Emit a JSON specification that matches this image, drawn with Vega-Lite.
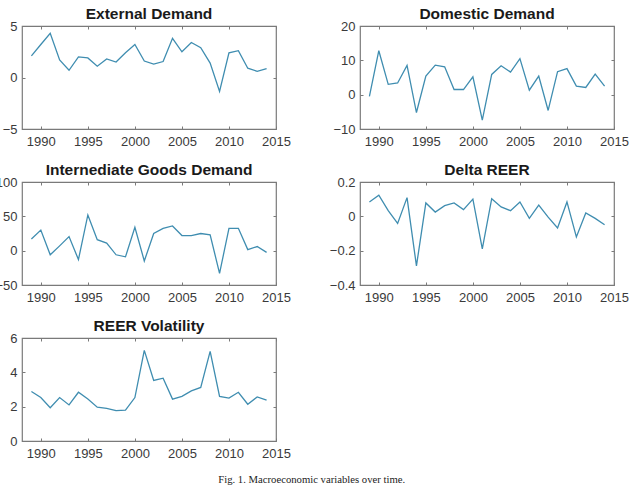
{
  "$schema": "https://vega.github.io/schema/vega-lite/v6.json",
  "padding": {"left": -6, "top": 5, "right": 0, "bottom": 0},
  "background": "white",
  "title": {"text": "Fig. 1.  Macroeconomic variables over time.", "orient": "bottom", "anchor": "middle", "font": "Liberation Serif", "fontSize": 10.7, "fontWeight": "normal", "color": "#222222", "offset": 14},
  "config": {
    "view": {"stroke": "#7a7a7a", "strokeWidth": 1.2},
    "font": "Liberation Sans",
    "title": {"font": "Liberation Sans", "fontSize": 15.5, "fontWeight": "bold", "color": "#1a1a1a", "offset": -2},
    "axis": {"domain": false, "grid": false, "tickSize": -3, "tickColor": "#7a7a7a", "labelFont": "Liberation Sans", "labelFontSize": 13, "labelColor": "#3a3a3a", "title": null, "labelPadding": 9, "labelFlush": false},
    "axisY": {"labelPadding": 8},
    "line": {"color": "#3f8db0", "strokeWidth": 1.3}
  },
  "datasets": {
    "ext": [
      {"year": 1989, "value": 2.1}, {"year": 1990, "value": 3.2}, {"year": 1991, "value": 4.3}, {"year": 1992, "value": 1.7},
      {"year": 1993, "value": 0.7}, {"year": 1994, "value": 2.0}, {"year": 1995, "value": 1.9}, {"year": 1996, "value": 1.1},
      {"year": 1997, "value": 1.8}, {"year": 1998, "value": 1.5}, {"year": 1999, "value": 2.4}, {"year": 2000, "value": 3.2},
      {"year": 2001, "value": 1.6}, {"year": 2002, "value": 1.3}, {"year": 2003, "value": 1.55}, {"year": 2004, "value": 3.8},
      {"year": 2005, "value": 2.5}, {"year": 2006, "value": 3.4}, {"year": 2007, "value": 2.9}, {"year": 2008, "value": 1.4},
      {"year": 2009, "value": -1.35}, {"year": 2010, "value": 2.4}, {"year": 2011, "value": 2.6}, {"year": 2012, "value": 0.9},
      {"year": 2013, "value": 0.6}, {"year": 2014, "value": 0.85}
    ],
    "dom": [
      {"year": 1989, "value": -0.5}, {"year": 1990, "value": 12.8}, {"year": 1991, "value": 3.0}, {"year": 1992, "value": 3.4},
      {"year": 1993, "value": 8.5}, {"year": 1994, "value": -5.2}, {"year": 1995, "value": 5.4}, {"year": 1996, "value": 8.6},
      {"year": 1997, "value": 8.1}, {"year": 1998, "value": 1.5}, {"year": 1999, "value": 1.5}, {"year": 2000, "value": 5.2},
      {"year": 2001, "value": -7.4}, {"year": 2002, "value": 5.9}, {"year": 2003, "value": 8.4}, {"year": 2004, "value": 6.6},
      {"year": 2005, "value": 10.5}, {"year": 2006, "value": 1.3}, {"year": 2007, "value": 5.4}, {"year": 2008, "value": -4.6},
      {"year": 2009, "value": 6.7}, {"year": 2010, "value": 7.6}, {"year": 2011, "value": 2.5}, {"year": 2012, "value": 2.1},
      {"year": 2013, "value": 6.0}, {"year": 2014, "value": 2.5}
    ],
    "inter": [
      {"year": 1989, "value": 17}, {"year": 1990, "value": 30}, {"year": 1991, "value": -6}, {"year": 1992, "value": 7},
      {"year": 1993, "value": 20.5}, {"year": 1994, "value": -13}, {"year": 1995, "value": 52}, {"year": 1996, "value": 16},
      {"year": 1997, "value": 11}, {"year": 1998, "value": -6}, {"year": 1999, "value": -9}, {"year": 2000, "value": 34},
      {"year": 2001, "value": -15}, {"year": 2002, "value": 25}, {"year": 2003, "value": 32.5}, {"year": 2004, "value": 36},
      {"year": 2005, "value": 22}, {"year": 2006, "value": 22}, {"year": 2007, "value": 25}, {"year": 2008, "value": 23},
      {"year": 2009, "value": -33}, {"year": 2010, "value": 32.5}, {"year": 2011, "value": 32.5}, {"year": 2012, "value": 1.5},
      {"year": 2013, "value": 6}, {"year": 2014, "value": -2.5}
    ],
    "reer": [
      {"year": 1989, "value": 0.084}, {"year": 1990, "value": 0.123}, {"year": 1991, "value": 0.033}, {"year": 1992, "value": -0.041},
      {"year": 1993, "value": 0.109}, {"year": 1994, "value": -0.289}, {"year": 1995, "value": 0.078}, {"year": 1996, "value": 0.025},
      {"year": 1997, "value": 0.062}, {"year": 1998, "value": 0.078}, {"year": 1999, "value": 0.039}, {"year": 2000, "value": 0.1},
      {"year": 2001, "value": -0.19}, {"year": 2002, "value": 0.103}, {"year": 2003, "value": 0.055}, {"year": 2004, "value": 0.033},
      {"year": 2005, "value": 0.084}, {"year": 2006, "value": -0.012}, {"year": 2007, "value": 0.066}, {"year": 2008, "value": -0.005},
      {"year": 2009, "value": -0.068}, {"year": 2010, "value": 0.084}, {"year": 2011, "value": -0.12}, {"year": 2012, "value": 0.02},
      {"year": 2013, "value": -0.012}, {"year": 2014, "value": -0.049}
    ],
    "vol": [
      {"year": 1989, "value": 2.88}, {"year": 1990, "value": 2.53}, {"year": 1991, "value": 1.94}, {"year": 1992, "value": 2.53},
      {"year": 1993, "value": 2.1}, {"year": 1994, "value": 2.84}, {"year": 1995, "value": 2.45}, {"year": 1996, "value": 1.97},
      {"year": 1997, "value": 1.9}, {"year": 1998, "value": 1.77}, {"year": 1999, "value": 1.8}, {"year": 2000, "value": 2.53},
      {"year": 2001, "value": 5.28}, {"year": 2002, "value": 3.53}, {"year": 2003, "value": 3.66}, {"year": 2004, "value": 2.44},
      {"year": 2005, "value": 2.6}, {"year": 2006, "value": 2.92}, {"year": 2007, "value": 3.12}, {"year": 2008, "value": 5.22},
      {"year": 2009, "value": 2.6}, {"year": 2010, "value": 2.5}, {"year": 2011, "value": 2.84}, {"year": 2012, "value": 2.14},
      {"year": 2013, "value": 2.57}, {"year": 2014, "value": 2.38}
    ]
  },
  "columns": 2,
  "spacing": {"column": 36, "row": 12},
  "concat": [
    {
      "title": "External Demand", "width": 254, "height": 103, "data": {"name": "ext"},
      "resolve": {"axis": {"x": "independent", "y": "independent"}},
      "layer": [
        {"mark": {"type": "line"},
         "encoding": {
           "x": {"field": "year", "type": "quantitative", "scale": {"domain": [1988, 2015], "nice": false, "zero": false}, "axis": {"values": [1990, 1995, 2000, 2005, 2010, 2015], "format": "d"}},
           "y": {"field": "value", "type": "quantitative", "scale": {"domain": [-5, 5], "nice": false}, "axis": {"values": [-5, 0, 5]}}}},
        {"mark": {"type": "line", "opacity": 0},
         "encoding": {
           "x": {"field": "year", "type": "quantitative", "axis": {"orient": "top", "labels": false, "values": [1990, 1995, 2000, 2005, 2010, 2015]}},
           "y": {"field": "value", "type": "quantitative", "axis": {"orient": "right", "labels": false, "values": [-5, 0, 5]}}}}
      ]
    },
    {
      "title": "Domestic Demand", "width": 254, "height": 103, "data": {"name": "dom"},
      "resolve": {"axis": {"x": "independent", "y": "independent"}},
      "layer": [
        {"mark": {"type": "line"},
         "encoding": {
           "x": {"field": "year", "type": "quantitative", "scale": {"domain": [1988, 2015], "nice": false, "zero": false}, "axis": {"values": [1990, 1995, 2000, 2005, 2010, 2015], "format": "d"}},
           "y": {"field": "value", "type": "quantitative", "scale": {"domain": [-10, 20], "nice": false}, "axis": {"values": [-10, 0, 10, 20]}}}},
        {"mark": {"type": "line", "opacity": 0},
         "encoding": {
           "x": {"field": "year", "type": "quantitative", "axis": {"orient": "top", "labels": false, "values": [1990, 1995, 2000, 2005, 2010, 2015]}},
           "y": {"field": "value", "type": "quantitative", "axis": {"orient": "right", "labels": false, "values": [-10, 0, 10, 20]}}}}
      ]
    },
    {
      "title": "Internediate Goods Demand", "width": 254, "height": 103, "data": {"name": "inter"},
      "resolve": {"axis": {"x": "independent", "y": "independent"}},
      "layer": [
        {"mark": {"type": "line"},
         "encoding": {
           "x": {"field": "year", "type": "quantitative", "scale": {"domain": [1988, 2015], "nice": false, "zero": false}, "axis": {"values": [1990, 1995, 2000, 2005, 2010, 2015], "format": "d"}},
           "y": {"field": "value", "type": "quantitative", "scale": {"domain": [-50, 100], "nice": false}, "axis": {"values": [-50, 0, 50, 100]}}}},
        {"mark": {"type": "line", "opacity": 0},
         "encoding": {
           "x": {"field": "year", "type": "quantitative", "axis": {"orient": "top", "labels": false, "values": [1990, 1995, 2000, 2005, 2010, 2015]}},
           "y": {"field": "value", "type": "quantitative", "axis": {"orient": "right", "labels": false, "values": [-50, 0, 50, 100]}}}}
      ]
    },
    {
      "title": "Delta REER", "width": 254, "height": 103, "data": {"name": "reer"},
      "resolve": {"axis": {"x": "independent", "y": "independent"}},
      "layer": [
        {"mark": {"type": "line"},
         "encoding": {
           "x": {"field": "year", "type": "quantitative", "scale": {"domain": [1988, 2015], "nice": false, "zero": false}, "axis": {"values": [1990, 1995, 2000, 2005, 2010, 2015], "format": "d"}},
           "y": {"field": "value", "type": "quantitative", "scale": {"domain": [-0.4, 0.2], "nice": false}, "axis": {"values": [-0.4, -0.2, 0, 0.2], "format": "~g"}}}},
        {"mark": {"type": "line", "opacity": 0},
         "encoding": {
           "x": {"field": "year", "type": "quantitative", "axis": {"orient": "top", "labels": false, "values": [1990, 1995, 2000, 2005, 2010, 2015]}},
           "y": {"field": "value", "type": "quantitative", "axis": {"orient": "right", "labels": false, "values": [-0.4, -0.2, 0, 0.2]}}}}
      ]
    },
    {
      "title": "REER Volatility", "width": 254, "height": 103, "data": {"name": "vol"},
      "resolve": {"axis": {"x": "independent", "y": "independent"}},
      "layer": [
        {"mark": {"type": "line"},
         "encoding": {
           "x": {"field": "year", "type": "quantitative", "scale": {"domain": [1988, 2015], "nice": false, "zero": false}, "axis": {"values": [1990, 1995, 2000, 2005, 2010, 2015], "format": "d"}},
           "y": {"field": "value", "type": "quantitative", "scale": {"domain": [0, 6], "nice": false}, "axis": {"values": [0, 2, 4, 6]}}}},
        {"mark": {"type": "line", "opacity": 0},
         "encoding": {
           "x": {"field": "year", "type": "quantitative", "axis": {"orient": "top", "labels": false, "values": [1990, 1995, 2000, 2005, 2010, 2015]}},
           "y": {"field": "value", "type": "quantitative", "axis": {"orient": "right", "labels": false, "values": [0, 2, 4, 6]}}}}
      ]
    }
  ]
}
